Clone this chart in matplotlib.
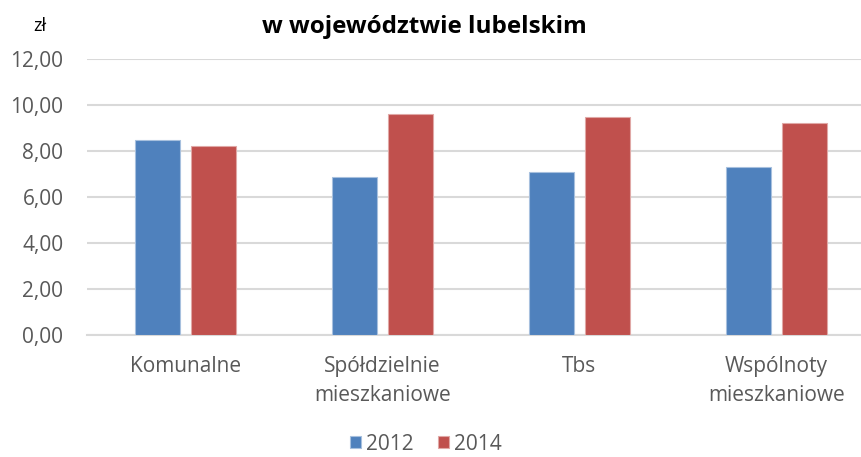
import numpy as np
import matplotlib.pyplot as plt

plt.rcParams['font.family'] = ['Open Sans', 'DejaVu Sans']

categories = ['Komunalne', 'Spółdzielnie\nmieszkaniowe', 'Tbs', 'Wspólnoty\nmieszkaniowe']
values_2012 = [8.48, 6.88, 7.10, 7.32]
values_2014 = [8.20, 9.60, 9.49, 9.22]
yticks = [0, 2, 4, 6, 8, 10, 12]

fig = plt.figure(figsize=(8.61, 4.57), dpi=100)
# the plot area runs past the right edge, as in the original crop
ax = fig.add_axes([87/861, (457-335)/457, (875-87)/861, 276/457])

x = np.arange(len(categories))
w = 0.228
off = 0.142
ax.bar(x - off, values_2012, w, color='#4F81BD', edgecolor='#A7C0DE', linewidth=0.8, label='2012', zorder=3)
ax.bar(x + off, values_2014, w, color='#C0504D', edgecolor='#E0A8A6', linewidth=0.8, label='2014', zorder=3)

ax.set_xlim(-0.5, 3.5)
ax.set_ylim(0, 12)
ax.set_yticks(yticks)
ax.set_yticklabels([f'{v:.2f}'.replace('.', ',') for v in yticks])
ax.set_xticks(x)
ax.set_xticklabels(categories, linespacing=1.5)
ax.yaxis.grid(True, color='#D9D9D9', linewidth=1.5, zorder=0)
for s in ['top', 'right', 'left']:
    ax.spines[s].set_visible(False)
ax.spines['bottom'].set_color('#D9D9D9')
ax.spines['bottom'].set_linewidth(1.5)
ax.tick_params(axis='both', length=0, labelsize=15, colors='#595959')
ax.tick_params(axis='x', pad=15)
ax.tick_params(axis='y', pad=17)

fig.text(424/861, 1 - 27/457, 'w województwie lubelskim', ha='center', va='center',
         fontsize=17.5, fontweight='bold', color='black')
fig.text(40/861, 1 - 26/457, 'zł', ha='center', va='center', fontsize=13, color='black')

fig.legend(loc='center', bbox_to_anchor=(426/861, 1 - 444/457), ncol=2, frameon=False,
           fontsize=15, handlelength=0.5, handleheight=0.5, handletextpad=0.25,
           columnspacing=1.2, labelcolor='#595959', borderpad=0.2)

fig.savefig('out.png', dpi=100)
